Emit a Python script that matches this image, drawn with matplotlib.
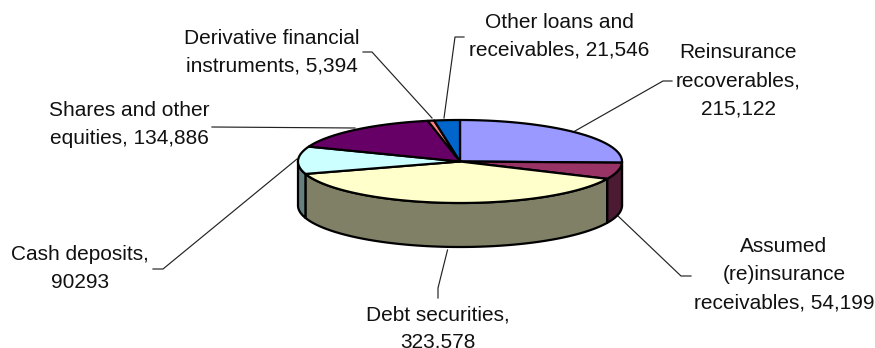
import numpy as np
import matplotlib
matplotlib.use("Agg")
import matplotlib.pyplot as plt
from matplotlib.patches import Polygon

plt.rcParams["font.family"] = ["Liberation Sans", "DejaVu Sans"]

# Portfolio slices, clockwise from twelve o'clock
categories = [
    "Reinsurance\nrecoverables,\n215,122",
    "Assumed\n(re)insurance\nreceivables, 54,199",
    "Debt securities,\n323.578",
    "Cash deposits,\n90293",
    "Shares and other\nequities, 134,886",
    "Derivative financial\ninstruments, 5,394",
    "Other loans and\nreceivables, 21,546",
]
values = [215122, 54199, 323578, 90293, 134886, 5394, 21546]
top_colors = ["#9999FF", "#993366", "#FFFFCC", "#CCFFFF", "#660066", "#FF8080", "#0066CC"]
side_colors = ["#4D4D80", "#4D1A33", "#808066", "#668080", "#330033", "#804040", "#003366"]

# First-line centre of each label
label_anchors = [(738, 53), (784, 247), (438, 315), (80, 255), (129, 111), (272, 38), (559, 22)]
# Leader polylines running from the rim out to the label
leaders = [
    [(575, 131), (663, 81), (672, 81)],
    [(618, 216), (681, 276), (691, 276)],
    [(447.5, 250), (438, 288), (438, 298)],
    [(297, 159), (163, 269), (153, 269)],
    [(355, 128), (212, 127)],
    [(432, 118), (372, 52), (363, 52)],
    [(444, 118), (455, 37), (464, 37)],
]

CX, CY, RX, RY, DEPTH = 460, 161.5, 162, 41.5, 44
LINE_STEP = 27.8


def rim(start, stop, drop=0.0, n=80):
    t = np.radians(np.linspace(start, stop, n))
    return np.column_stack([CX + RX * np.sin(t), CY + drop - RY * np.cos(t)])


fig = plt.figure(figsize=(8.75, 3.48), dpi=100)
ax = fig.add_axes([0, 0, 1, 1])
ax.set_xlim(0, 875)
ax.set_ylim(348, 0)
ax.axis("off")

edges = np.concatenate([[0], np.cumsum(values)]) / np.sum(values) * 360

for path in leaders:
    xs, ys = zip(*path)
    ax.plot(xs, ys, color="#222222", lw=0.85, zorder=1)

# Outer wall: only the part of the rim facing the viewer shows
for a, b, color in zip(edges[:-1], edges[1:], side_colors):
    lo, hi = max(a, 90), min(b, 270)
    if lo < hi:
        wall = np.vstack([rim(lo, hi), rim(lo, hi, DEPTH)[::-1]])
        ax.add_patch(Polygon(wall, closed=True, facecolor=color, edgecolor="black",
                             lw=1.6, joinstyle="round", zorder=2))

# Top face
for a, b, color in zip(edges[:-1], edges[1:], top_colors):
    wedge = np.vstack([[CX, CY], rim(a, b)])
    ax.add_patch(Polygon(wedge, closed=True, facecolor=color, edgecolor="black",
                         lw=1.6, joinstyle="round", zorder=3))

for label, (x, y) in zip(categories, label_anchors):
    for i, line in enumerate(label.split("\n")):
        ax.text(x, y + i * LINE_STEP, line, ha="center", va="center",
                fontsize=15, color="#111111", zorder=4)

fig.savefig("out.png", dpi=100, facecolor="white")
